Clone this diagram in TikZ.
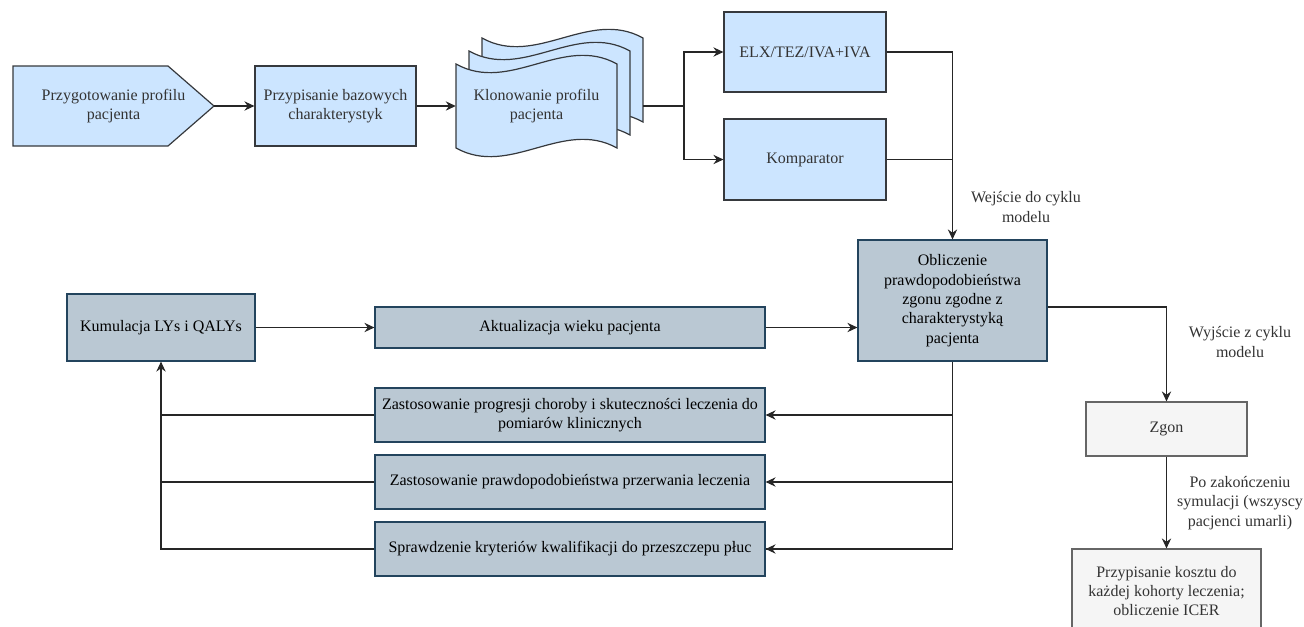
\documentclass[tikz,border=0pt]{standalone}
\usepackage{fontspec}
\setmainfont{Liberation Serif}
\usetikzlibrary{arrows.meta}
\definecolor{lightblue}{HTML}{CCE5FF}
\definecolor{blueline}{HTML}{36393D}
\definecolor{grayblue}{HTML}{BAC8D3}
\definecolor{navyline}{HTML}{23445D}
\definecolor{palegray}{HTML}{F5F5F5}
\definecolor{midgray}{HTML}{666666}
\definecolor{darktext}{HTML}{333333}
\begin{document}
\begin{tikzpicture}[x=0.75pt,y=-0.75pt,
    font=\fontsize{12}{14.5}\selectfont,
    every node/.style={align=center,inner sep=2pt},
    topbox/.style={draw=blueline,fill=lightblue,line width=0.9pt,text=darktext},
    loopbox/.style={draw=navyline,fill=grayblue,line width=0.9pt,text=black},
    endbox/.style={draw=midgray,fill=palegray,line width=0.9pt,text=darktext},
    wire/.style={line width=0.9pt,draw=black!85},
    arrow/.style={wire,-{Stealth[length=7.5pt,width=7pt,inset=2.5pt]}},
    note/.style={text=darktext}]
    \useasboundingbox (0,0) rectangle (1304,626);

    \draw[topbox](13,66)--(168,66)--(214,106)--(168,146)--(13,146)--cycle;
    \foreach \d in {26,13,0}{
        \draw[topbox](456+\d,64-\d) .. controls (510+\d,94-\d) and (563+\d,34-\d) .. (617+\d,64-\d)
            --(617+\d,148-\d) .. controls (563+\d,118-\d) and (510+\d,178-\d) .. (456+\d,148-\d)--cycle;
    }

    \node[minimum width=150.75pt,minimum height=60pt,text=darktext](prep)at(113.5,106){Przygotowanie profilu\\pacjenta};
    \node[topbox,minimum width=120.75pt,minimum height=60pt](base)at(335.5,106){Przypisanie bazowych\\charakterystyk};
    \node[minimum width=120.75pt,minimum height=63pt,text=darktext](clone)at(536.5,106){Klonowanie profilu\\pacjenta};
    \node[topbox,minimum width=121.5pt,minimum height=60pt](elx)at(805,52){ELX/TEZ/IVA+IVA};
    \node[topbox,minimum width=121.5pt,minimum height=60.75pt](komp)at(805,159.5){Komparator};
    \node[loopbox,minimum width=141.75pt,minimum height=90.75pt](risk)at(952.5,300.5){Obliczenie\\prawdopodobieństwa\\zgonu zgodne z\\charakterystyką\\pacjenta};
    \node[loopbox,minimum width=141pt,minimum height=50.25pt](qaly)at(161,327.5){Kumulacja LYs i QALYs};
    \node[loopbox,minimum width=292.5pt,minimum height=30.75pt](age)at(570,327.5){Aktualizacja wieku pacjenta};
    \node[loopbox,minimum width=292.5pt,minimum height=40.5pt](prog)at(570,415){Zastosowanie progresji choroby i skuteczności leczenia do\\pomiarów klinicznych};
    \node[loopbox,minimum width=292.5pt,minimum height=40.5pt](stop)at(570,482){Zastosowanie prawdopodobieństwa przerwania leczenia};
    \node[loopbox,minimum width=292.5pt,minimum height=40.5pt](lung)at(570,549){Sprawdzenie kryteriów kwalifikacji do przeszczepu płuc};
    \node[endbox,minimum width=120.75pt,minimum height=40.5pt](death)at(1166.5,429){Zgon};
    \node[endbox,minimum width=141.75pt,minimum height=63pt](cost)at(1166.5,591){Przypisanie kosztu do\\każdej kohorty leczenia;\\obliczenie ICER};

    \coordinate(split)at(684,106);
    \coordinate(join)at(952,159.5);
    \coordinate(exit)at(1166.5,307);
    \coordinate(back)at(161,549);

    \draw[arrow](prep.east)--(base.west);
    \draw[arrow](base.east)--(clone.west);
    \draw[wire]([xshift=19.5pt]clone.east)--(split);
    \draw[arrow](split)|-(elx.west);
    \draw[arrow](split)|-(komp.west);
    \draw[wire](komp.east)--(join);
    \draw[arrow](elx.east)-|(risk.north);
    \draw[wire](risk.south)--(risk.south|-lung.east)--(lung.east);
    \draw[arrow](risk.south|-prog.east)--(prog.east);
    \draw[arrow](risk.south|-stop.east)--(stop.east);
    \draw[arrow](risk.south|-lung.east)--(lung.east);
    \draw[wire](prog.west)--(back|-prog.west);
    \draw[wire](stop.west)--(back|-stop.west);
    \draw[arrow](lung.west)-|(qaly.south);
    \draw[arrow](qaly.east)--(age.west);
    \draw[arrow](age.east)--(age.east-|risk.west);
    \draw[arrow](risk.east|-exit)-|(death.north);
    \draw[arrow](death.south)--(cost.north);

    \node[note]at(1026,207){Wejście do cyklu\\modelu};
    \node[note]at(1240,342){Wyjście z cyklu\\modelu};
    \node[note]at(1240,503){Po zakończeniu\\symulacji (wszyscy\\pacjenci umarli)};
\end{tikzpicture}
\end{document}
